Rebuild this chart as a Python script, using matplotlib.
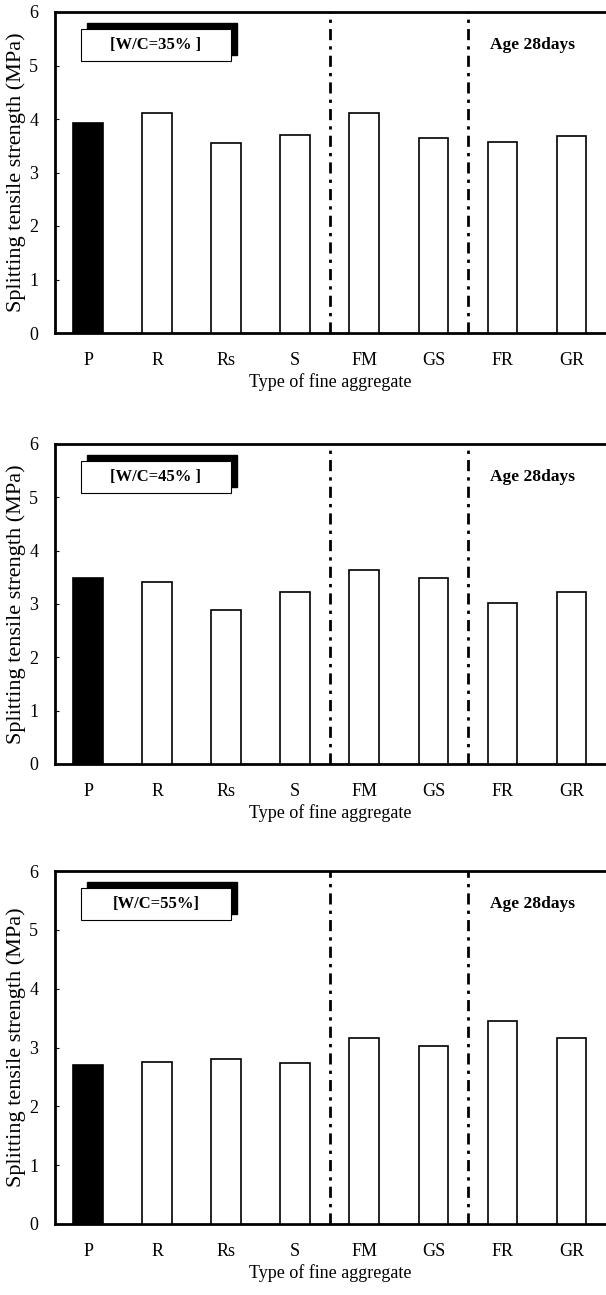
import matplotlib.pyplot as plt
from matplotlib.patches import Rectangle

plt.rcParams['font.family'] = ['Liberation Serif', 'DejaVu Serif']

# Splitting tensile strength at 28 days (MPa)
aggregates = ["P", "R", "Rs", "S", "FM", "GS", "FR", "GR"]
wc_labels = ["[W/C=35% ]", "[W/C=45% ]", "[W/C=55%]"]
strength_35 = [3.92, 4.11, 3.55, 3.70, 4.11, 3.64, 3.57, 3.68]
strength_45 = [3.49, 3.42, 2.89, 3.23, 3.64, 3.49, 3.02, 3.23]
strength_55 = [2.70, 2.75, 2.80, 2.73, 3.16, 3.03, 3.45, 3.16]
group_breaks = [3.5, 5.5]

W, H = 606, 1295
fig = plt.figure(figsize=(W / 100, H / 100), dpi=100)

# panel frames in pixels: (left, top, right, bottom)
frames = [(55, 12, 606, 333), (55, 444, 606, 764), (55, 871, 606, 1224)]
series = [strength_35, strength_45, strength_55]

for (l, t, r, b), vals, wc in zip(frames, series, wc_labels):
    ax = fig.add_axes([l / W, 1 - b / H, (r - l) / W, (b - t) / H])
    hpx = b - t
    x = list(range(len(aggregates)))
    colors = ["black"] + ["white"] * (len(aggregates) - 1)
    ax.bar(x, vals, width=0.43, color=colors, edgecolor="black", linewidth=1.2, zorder=3)

    for gb in group_breaks:
        ax.axvline(gb, color="black", lw=2, linestyle=(0, (4, 2.2, 1.2, 2.2)), zorder=2)

    ax.set_xlim(-0.48, 7.5)
    ax.set_ylim(0, 6)
    ax.set_yticks(range(0, 7))
    ax.set_xticks(x)
    ax.set_xticklabels(aggregates)
    ax.tick_params(axis="x", length=0, pad=14, labelsize=13)
    ax.tick_params(axis="y", direction="in", length=3, width=0.8, pad=12, labelsize=13)

    for side in ["left", "bottom", "top"]:
        ax.spines[side].set_linewidth(2)
    ax.spines["right"].set_visible(False)

    ax.set_ylabel("Splitting tensile strength (MPa)", fontsize=16, labelpad=2)
    ax.set_xlabel("Type of fine aggregate", fontsize=13, labelpad=3)

    # label box with offset shadow, fixed pixel size
    bw, bh, sh = 150 / (r - l), 32 / hpx, 6
    bx, by = 26 / (r - l), 1 - 49 / hpx
    ax.add_patch(Rectangle((bx + sh / (r - l), by + sh / hpx), bw, bh, transform=ax.transAxes,
                           facecolor="black", edgecolor="black", zorder=4))
    ax.add_patch(Rectangle((bx, by), bw, bh, transform=ax.transAxes,
                           facecolor="white", edgecolor="black", lw=0.8, zorder=5))
    ax.text(bx + bw / 2, by + bh / 2, wc, transform=ax.transAxes, ha="center", va="center",
            fontsize=12, fontweight="bold", zorder=6)
    ax.text(0.789, by + bh / 2, "Age 28days", transform=ax.transAxes, ha="left", va="center",
            fontsize=12.5, fontweight="bold", zorder=6)

fig.savefig("out.png", dpi=100)
